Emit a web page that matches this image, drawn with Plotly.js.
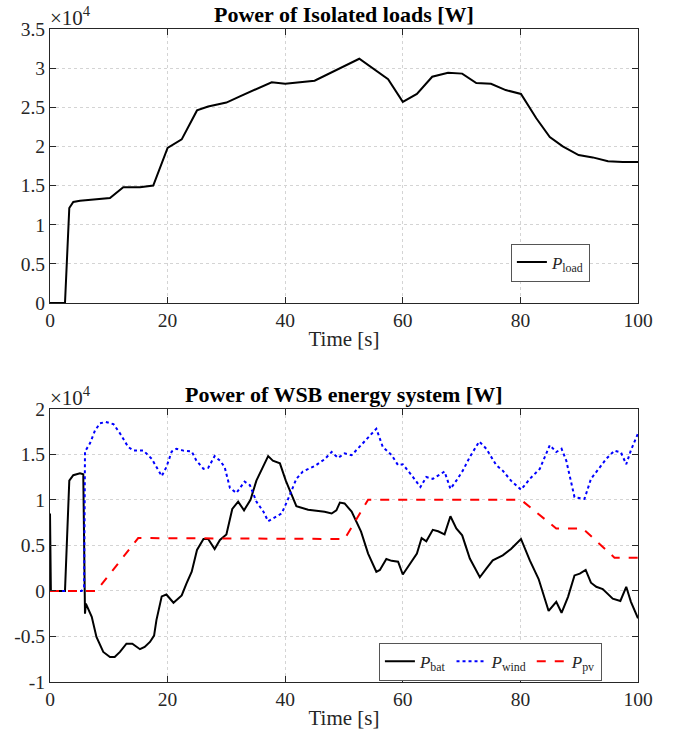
<!DOCTYPE html>
<html>
<head>
<meta charset="utf-8">
<script src="https://cdn.plot.ly/plotly-3.0.1.min.js"></script>
<style>html,body{margin:0;padding:0;background:#fff;}</style>
</head>
<body>
<div id="chart" style="width:675px;height:738px;"></div>
<script>
// ---- Data ----
const tLoad = [0, 2.55, 3.28, 3.96, 5.1, 10.2, 12.46, 15.3, 17.56, 20, 22.4, 25.0, 26.9, 30, 32.3, 37.7, 40, 45, 52.6, 57.5, 60, 62.4, 65, 67.7, 70.1, 72.5, 75, 77.5, 80.1, 82.7, 85, 87.2, 89.9, 92.3, 94.9, 97.4, 100];
const pLoad = [0, 0, 12130, 12900, 13070, 13400, 14800, 14800, 15000, 19800, 20900, 24600, 25100, 25600, 26400, 28200, 28000, 28400, 31200, 28600, 25700, 26700, 28900, 29400, 29300, 28100, 28000, 27200, 26700, 23600, 21200, 20000, 18900, 18600, 18100, 18000, 18000];

const tBat = [0, 0.15, 2.55, 3.28, 3.96, 5.1, 5.66, 5.95, 6.1, 7.1, 7.9, 9.06, 10.2, 11.0, 11.9, 13.0, 14.0, 15.3, 16.1, 17.0, 17.7, 18.1, 19.0, 19.8, 21.0, 22.4, 23.2, 24.1, 25.0, 26.1, 26.9, 28.0, 28.9, 30.0, 31.0, 32.0, 33.0, 34.1, 35.1, 36.3, 37.1, 37.9, 39.1, 40.1, 40.8, 41.9, 43.9, 45.0, 46.7, 47.9, 48.7, 49.3, 50.1, 51.3, 52.9, 54.1, 55.5, 56.1, 57.2, 58.1, 59.2, 60.0, 61.5, 62.4, 63.2, 64.0, 65.1, 66.0, 67.1, 68.1, 69.1, 70.1, 71.4, 73.1, 74.2, 75.3, 77.0, 78.4, 80.1, 81.6, 83.1, 84.8, 86.1, 87.0, 88.1, 89.2, 90.1, 91.1, 92.0, 92.9, 94.0, 95.7, 97.0, 98.0, 98.8, 100];
const pBat = [8500, 0, 0, 12100, 12700, 12900, 12800, -2500, -1400, -2850, -5050, -6700, -7250, -7250, -6700, -5800, -5800, -6400, -6150, -5600, -4900, -3200, -600, -400, -1300, -500, 800, 2100, 4500, 5700, 5700, 4600, 5600, 6200, 9000, 9800, 8850, 10000, 12100, 13800, 14800, 14300, 14000, 12100, 11050, 9300, 8900, 8850, 8700, 8500, 8850, 9700, 9600, 8700, 6500, 4100, 2100, 2300, 3500, 3300, 3200, 1800, 3200, 4100, 5800, 5450, 6700, 6550, 6200, 8200, 6850, 6100, 3550, 1500, 2450, 3350, 3900, 4600, 5700, 3350, 1300, -2200, -1200, -2400, -650, 1700, 1900, 2300, 900, 450, 200, -850, -1100, 450, -1200, -3000];

const tWind = [0, 5.4, 5.8, 5.95, 6.8, 7.65, 8.5, 9.5, 10.8, 11.9, 13.3, 14.2, 15.9, 17.3, 19.0, 19.8, 20.7, 21.5, 22.7, 24.1, 24.9, 26.1, 26.9, 28.0, 28.9, 29.7, 30.6, 31.7, 33.1, 34.0, 35.1, 36.3, 37.1, 38.2, 39.4, 40.5, 41.9, 43.0, 45.0, 46.7, 47.9, 49.0, 50.1, 51.3, 52.9, 55.5, 56.6, 58.1, 59.2, 60.0, 61.5, 63.0, 64.0, 65.1, 67.1, 68.1, 69.1, 70.2, 71.4, 73.0, 74.2, 75.9, 77.0, 78.4, 80.1, 81.6, 83.3, 85.0, 86.1, 87.0, 87.8, 89.2, 90.9, 92.0, 93.2, 94.6, 96.0, 97.1, 98.0, 98.8, 100];
const pWind = [0, 0, 400, 15300, 16200, 17600, 18400, 18550, 18300, 17300, 15800, 15400, 15400, 14500, 12600, 13600, 15300, 15600, 15400, 15300, 14300, 13400, 13500, 14800, 14300, 13600, 11300, 10750, 12000, 11600, 9800, 8700, 7650, 8100, 8500, 10100, 12300, 13100, 13700, 14450, 15250, 14600, 15100, 14900, 16000, 17800, 15800, 14900, 13800, 13900, 12700, 11400, 12500, 12300, 13100, 11200, 12100, 13200, 14700, 16400, 15600, 13800, 13200, 12100, 11100, 12300, 13400, 16000, 15250, 15600, 14300, 10300, 10100, 12300, 13300, 14500, 15400, 15200, 13900, 15450, 17300];

const tPv = [0, 7.9, 15.0, 50.1, 54.1, 80.1, 86.1, 90.6, 96.0, 100];
const pPv = [0, 0, 5800, 5700, 10000, 10000, 6850, 6850, 3650, 3650];

const topTickVals = [0, 5000, 10000, 15000, 20000, 25000, 30000, 35000];
const topTickText = ['0', '0.5', '1', '1.5', '2', '2.5', '3', '3.5'];
const botTickVals = [-10000, -5000, 0, 5000, 10000, 15000, 20000];
const botTickText = ['-1', '-0.5', '0', '0.5', '1', '1.5', '2'];
const xTickVals = [0, 20, 40, 60, 80, 100];

// ---- Styling ----
const FONT = 'Liberation Serif, Times New Roman, serif';
const AX = '#262626';
const GRID = '#d4d4d4';

function xAxis(anchor) {
  return {
    anchor: anchor, range: [0, 100], tickvals: xTickVals,
    showline: true, linecolor: AX, linewidth: 1, mirror: 'ticks',
    ticks: 'inside', ticklen: 6, tickcolor: AX,
    showgrid: true, gridcolor: GRID, griddash: 'dot', gridwidth: 1,
    zeroline: false, tickfont: {size: 19.5, color: AX, family: FONT},
    title: {text: 'Time [s]', font: {size: 21, color: AX, family: FONT}, standoff: 0},
    fixedrange: true
  };
}
function yAxis(anchor, domain, range, tv, tt) {
  return {
    anchor: anchor, domain: domain, range: range, tickvals: tv, ticktext: tt,
    showline: true, linecolor: AX, linewidth: 1, mirror: 'ticks',
    ticks: 'inside', ticklen: 6, tickcolor: AX,
    showgrid: true, gridcolor: GRID, griddash: 'dot', gridwidth: 1,
    zeroline: false, tickfont: {size: 19.5, color: AX, family: FONT},
    fixedrange: true
  };
}

const traces = [
  {x: tLoad, y: pLoad, type: 'scatter', mode: 'lines', name: '<i>P</i><sub>load</sub>',
   line: {color: '#000000', width: 2}, xaxis: 'x', yaxis: 'y', legend: 'legend'},
  {x: tBat, y: pBat, type: 'scatter', mode: 'lines', name: '<i>P</i><sub>bat</sub>',
   line: {color: '#000000', width: 2}, xaxis: 'x2', yaxis: 'y2', legend: 'legend2'},
  {x: tWind, y: pWind, type: 'scatter', mode: 'lines', name: '<i>P</i><sub>wind</sub>',
   line: {color: '#0000ff', width: 2, dash: 'dot'}, xaxis: 'x2', yaxis: 'y2', legend: 'legend2'},
  {x: tPv, y: pPv, type: 'scatter', mode: 'lines', name: '<i>P</i><sub>pv</sub>',
   line: {color: '#ff0000', width: 2, dash: 'dash'}, xaxis: 'x2', yaxis: 'y2', legend: 'legend2'}
];

const layout = {
  width: 675, height: 738,
  margin: {l: 50, r: 36.5, t: 29.3, b: 55.7},
  paper_bgcolor: '#ffffff', plot_bgcolor: '#ffffff',
  font: {family: FONT, size: 18, color: AX},
  showlegend: true,
  xaxis: xAxis('y'),
  yaxis: yAxis('x', [0.5804, 1], [0, 35000], topTickVals, topTickText),
  xaxis2: xAxis('y2'),
  yaxis2: yAxis('x2', [0, 0.4185], [-10000, 20000], botTickVals, botTickText),
  legend: {x: 0.851, y: 0.6424, xanchor: 'center', yanchor: 'middle',
           bgcolor: '#ffffff', bordercolor: '#555555', borderwidth: 1,
           font: {size: 17, color: AX, family: FONT}, itemwidth: 30},
  legend2: {x: 0.749, y: 0.0311, xanchor: 'center', yanchor: 'middle', orientation: 'h',
            bgcolor: '#ffffff', bordercolor: '#555555', borderwidth: 1,
            font: {size: 17, color: AX, family: FONT}, itemwidth: 30},
  annotations: [
    {text: '<b>Power of Isolated loads [W]</b>', xref: 'paper', yref: 'paper', x: 0.5, y: 1,
     yshift: 14.5, xanchor: 'center', yanchor: 'middle', showarrow: false,
     font: {size: 22, color: '#000000', family: FONT}},
    {text: '<b>Power of WSB energy system [W]</b>', xref: 'paper', yref: 'paper', x: 0.5, y: 0.4185,
     yshift: 14.5, xanchor: 'center', yanchor: 'middle', showarrow: false,
     font: {size: 22, color: '#000000', family: FONT}},
    {text: '×10<sup>4</sup>', xref: 'paper', yref: 'paper', x: 0, y: 1, xanchor: 'left', yanchor: 'bottom',
     showarrow: false, xshift: -2, yshift: -3, font: {size: 21, color: AX, family: FONT}},
    {text: '×10<sup>4</sup>', xref: 'paper', yref: 'paper', x: 0, y: 0.4185, xanchor: 'left', yanchor: 'bottom',
     showarrow: false, xshift: -2, yshift: -3, font: {size: 21, color: AX, family: FONT}}
  ]
};

Plotly.newPlot('chart', traces, layout, {displayModeBar: false, staticPlot: true});
</script>
</body>
</html>
